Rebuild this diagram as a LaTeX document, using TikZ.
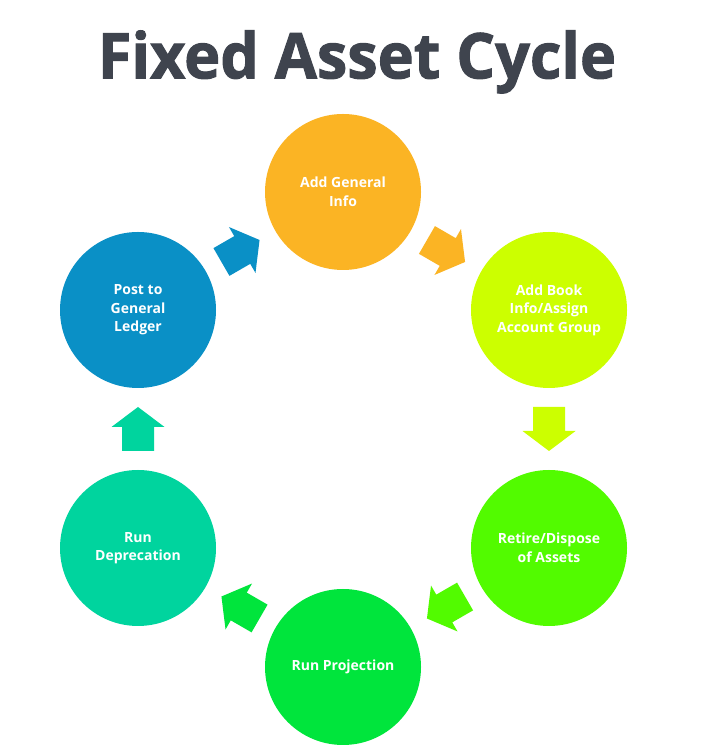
\documentclass[tikz,border=0pt]{standalone}
\usepackage{fontspec}
\setmainfont{Open Sans}
\newfontfamily\titlefont{Open Sans}[BoldFeatures={FakeBold=1.6}]
\usetikzlibrary{calc}
\definecolor{titlegray}{HTML}{3F444E}
\definecolor{corange}{HTML}{FBB424}
\definecolor{clime}{HTML}{CCFF00}
\definecolor{cgreenA}{HTML}{52FB00}
\definecolor{cgreenB}{HTML}{00E53C}
\definecolor{cteal}{HTML}{00D49E}
\definecolor{cblue}{HTML}{0A90C6}
\begin{document}
\begin{tikzpicture}[x=1pt,y=1pt,
  stage/.style={circle, minimum size=156pt, inner sep=0pt, fill=#1, text=white,
    font=\bfseries\fontsize{14}{18.5}\selectfont, align=center}]
\useasboundingbox (0,0) rectangle (711,751);
\fill[white] (0,0) rectangle (711,751);
\node[text=titlegray, font=\titlefont\bfseries\fontsize{63}{70}\selectfont, xscale=0.97] (title) at (357,689) {Fixed Asset Cycle};
\node[stage=corange] (s1) at (343,559) {Add General\\Info};
\node[stage=clime] (s2) at (549,441) {Add Book\\Info/Assign\\Account Group};
\node[stage=cgreenA] (s3) at (549,203) {Retire/Dispose\\of Assets};
\node[stage=cgreenB] (s4) at (343,84) {Run Projection};
\node[stage=cteal] (s5) at (138,203) {Run\\Deprecation};
\node[stage=cblue] (s6) at (138,441) {Post to\\General\\Ledger};
\foreach \a/\b/\ang/\col/\nm in {s1/s2/-30/corange/a1, s2/s3/-90/clime/a2, s3/s4/-150/cgreenA/a3,
    s4/s5/150/cgreenB/a4, s5/s6/90/cteal/a5, s6/s1/30/cblue/a6}{
  \coordinate (\nm) at ($(\a)!0.5!(\b)$);
  \fill[\col, shift={(\nm)}, rotate=\ang]
    (-22,-16) -- (2,-16) -- (2,-26.5) -- (22,0) -- (2,26.5) -- (2,16) -- (-22,16) -- cycle;
}
\end{tikzpicture}
\end{document}
